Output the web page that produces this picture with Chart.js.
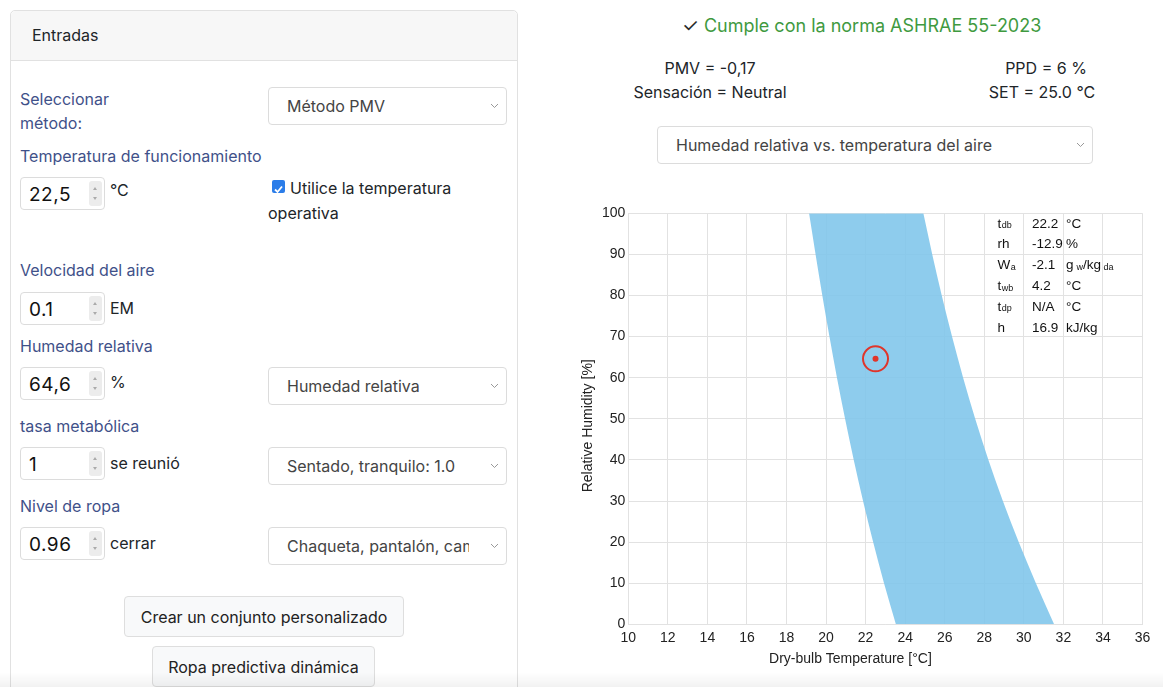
<!DOCTYPE html>
<html>
<head>
<meta charset="utf-8">
<script src="https://cdn.jsdelivr.net/npm/chart.js@4.4.1/dist/chart.umd.min.js"></script>
<style>
  html, body { margin:0; padding:0; background:#fff; }
  body { width:1163px; height:687px; position:relative; overflow:hidden; font-family: Inter, "Noto Sans", sans-serif; font-size:16px; color:#212529; }
  .a { position:absolute; white-space:nowrap; line-height:24px; }
  .lbl { color:#3f5189; }
  .card { position:absolute; left:10px; top:10px; width:506px; height:720px; border:1px solid #e1e1e1; border-radius:5px; }
  .card-h { position:absolute; left:0; top:0; right:0; height:49px; background:#f7f7f7; border-bottom:1px solid #e1e1e1; border-radius:5px 5px 0 0; }
  .inp { position:absolute; left:20px; width:83px; height:31px; border:1px solid #dcdcdc; border-radius:4px; background:#fff; }
  .inp .v { position:absolute; left:8px; top:0; line-height:33px; font-size:19px; letter-spacing:0.5px; color:#111; }
  .spin { position:absolute; left:68px; top:3px; width:13px; height:25px; background:#ececec; border-radius:3px; }
  .spin:before { content:""; position:absolute; left:4px; top:6px; border-left:2.5px solid transparent; border-right:2.5px solid transparent; border-bottom:3px solid #aaa; }
  .spin:after { content:""; position:absolute; left:4px; top:16px; border-left:2.5px solid transparent; border-right:2.5px solid transparent; border-top:3px solid #aaa; }
  .sel { position:absolute; height:36px; border:1px solid #dcdcdc; border-radius:4px; background:#fff; overflow:hidden; }
  .sel .t { position:absolute; left:18px; top:0; line-height:37px; color:#444; white-space:nowrap; }
  .sel svg { position:absolute; right:7px; top:15px; }
  .btn { position:absolute; height:39px; border:1px solid #dedede; border-radius:4px; background:#f8f9fa; text-align:center; line-height:40px; color:#222; white-space:nowrap; }
  #chartBox { position:absolute; left:572px; top:195px; width:585px; height:480px; }
  .shade { position:absolute; left:0; top:672px; width:1163px; height:15px; background:linear-gradient(rgba(0,0,0,0), rgba(0,0,0,0.05)); }
</style>
</head>
<body>
<div class="card"><div class="card-h"></div></div>
<div class="a" style="left:32px;top:23px;">Entradas</div>

<div class="a lbl" style="left:20px;top:87px;">Seleccionar</div>
<div class="a lbl" style="left:20px;top:111px;">método:</div>
<div class="sel" style="left:268px;top:87px;width:237px;"><div class="t">Método PMV</div><svg width="9" height="6"><polyline points="1,1 4.5,4.5 8,1" fill="none" stroke="#999" stroke-width="1"/></svg></div>

<div class="a lbl" style="left:20px;top:144px;">Temperatura de funcionamiento</div>
<div class="inp" style="top:177px;"><div class="v">22,5</div><div class="spin"></div></div>
<div class="a" style="left:110px;top:178px;">°C</div>
<div style="position:absolute;left:272px;top:180px;width:13px;height:13px;background:#2b7de9;border-radius:2px;"><svg width="13" height="13"><polyline points="3,6.5 5.5,9 10,3.5" fill="none" stroke="#fff" stroke-width="1.8"/></svg></div>
<div class="a" style="left:290px;top:176px;">Utilice la temperatura</div>
<div class="a" style="left:268px;top:201px;">operativa</div>

<div class="a lbl" style="left:20px;top:258px;">Velocidad del aire</div>
<div class="inp" style="top:292px;"><div class="v">0.1</div><div class="spin"></div></div>
<div class="a" style="left:110px;top:296px;">EM</div>

<div class="a lbl" style="left:20px;top:334px;">Humedad relativa</div>
<div class="inp" style="top:367px;"><div class="v">64,6</div><div class="spin"></div></div>
<div class="a" style="left:110px;top:370px;">%</div>
<div class="sel" style="left:268px;top:367px;width:237px;"><div class="t">Humedad relativa</div><svg width="9" height="6"><polyline points="1,1 4.5,4.5 8,1" fill="none" stroke="#999" stroke-width="1"/></svg></div>

<div class="a lbl" style="left:20px;top:414px;">tasa metabólica</div>
<div class="inp" style="top:447px;"><div class="v">1</div><div class="spin"></div></div>
<div class="a" style="left:110px;top:451px;">se reunió</div>
<div class="sel" style="left:268px;top:447px;width:237px;"><div class="t">Sentado, tranquilo: 1.0</div><svg width="9" height="6"><polyline points="1,1 4.5,4.5 8,1" fill="none" stroke="#999" stroke-width="1"/></svg></div>

<div class="a lbl" style="left:20px;top:494px;">Nivel de ropa</div>
<div class="inp" style="top:527px;"><div class="v">0.96</div><div class="spin"></div></div>
<div class="a" style="left:110px;top:531px;">cerrar</div>
<div class="sel" style="left:268px;top:527px;width:237px;"><div class="t" style="width:182px;overflow:hidden;">Chaqueta, pantalón, camisa</div><svg width="9" height="6"><polyline points="1,1 4.5,4.5 8,1" fill="none" stroke="#999" stroke-width="1"/></svg></div>

<div class="btn" style="left:124px;top:596px;width:278px;">Crear un conjunto personalizado</div>
<div class="btn" style="left:152px;top:646px;width:221px;">Ropa predictiva dinámica</div>

<div class="a" style="left:682px;top:14px;font-size:18px;"><span style="color:#2a2a2a;font-size:19px;">✓</span> <span style="color:#3f9a3f;">Cumple con la norma ASHRAE 55-2023</span></div>
<div class="a" style="left:560px;width:300px;text-align:center;top:56px;">PMV = -0,17</div>
<div class="a" style="left:560px;width:300px;text-align:center;top:80px;">Sensación = Neutral</div>
<div class="a" style="left:896px;width:300px;text-align:center;top:56px;">PPD = 6 %</div>
<div class="a" style="left:892px;width:300px;text-align:center;top:80px;">SET = 25.0 °C</div>
<div class="sel" style="left:657px;top:126px;width:434px;"><div class="t">Humedad relativa vs. temperatura del aire</div><svg width="9" height="6"><polyline points="1,1 4.5,4.5 8,1" fill="none" stroke="#999" stroke-width="1"/></svg></div>

<div id="chartBox"><canvas id="c"></canvas></div>
<div class="shade"></div>

<script>
// ---- data ----
const rhLevels       = [0, 10, 20, 30, 40, 50, 60, 70, 80, 90, 100];
const zoneLeftTemp   = [23.53, 22.93, 22.38, 21.87, 21.40, 20.96, 20.55, 20.17, 19.81, 19.47, 19.14];
const zoneRightTemp  = [31.53, 30.61, 29.74, 28.94, 28.21, 27.54, 26.93, 26.37, 25.85, 25.37, 24.92];
const pointTemp = [22.5];
const pointRH   = [64.6];
const xTickMin = 10, xTickMax = 36, xTickStep = 2;
const yTickMin = 0, yTickMax = 100, yTickStep = 10;
const tableLabels = [["t","db"],["rh",""],["W","a"],["t","wb"],["t","dp"],["h",""]];
const tableValues = ["22.2","-12.9","-2.1","4.2","N/A","16.9"];
const tableUnits  = [["°C"],["%"],["g","w","/kg"," da"],["°C"],["°C"],["kJ/kg"]];

const leftEdge  = rhLevels.map((rh, i) => ({x: zoneLeftTemp[i],  y: rh}));
const rightEdge = rhLevels.map((rh, i) => ({x: zoneRightTemp[i], y: rh}));
const marker    = pointTemp.map((t, i) => ({x: t, y: pointRH[i]}));

const FONT = '"Liberation Sans", Arial, sans-serif';

const tablePlugin = {
  id: 'psyTable',
  afterDraw(chart) {
    const {ctx, chartArea} = chart;
    const c1 = chartArea.right - 145, c2 = chartArea.right - 110.5, c3 = chartArea.right - 76.5;
    ctx.save();
    ctx.fillStyle = '#111';
    ctx.textBaseline = 'middle';
    const big = '13.5px ' + FONT, small = '9px ' + FONT;
    tableLabels.forEach((lab, i) => {
      const y = chartArea.top + 10.5 + i * 20.8;
      ctx.font = big; ctx.textAlign = 'left';
      ctx.fillText(lab[0], c1, y);
      let w = ctx.measureText(lab[0]).width;
      if (lab[1]) { ctx.font = small; ctx.fillText(lab[1], c1 + w + 0.5, y + 2); }
      ctx.font = big; ctx.fillText(tableValues[i], c2, y);
      let x = c3;
      tableUnits[i].forEach((part, k) => {
        const isSmall = (tableUnits[i].length > 1 && (k === 1 || k === 3));
        ctx.font = isSmall ? small : big;
        ctx.fillText(part, x, isSmall ? y + 2 : y);
        x += ctx.measureText(part).width + (k === 0 && tableUnits[i].length > 1 ? 3 : 0);
      });
    });
    ctx.restore();
  }
};

new Chart(document.getElementById('c'), {
  type: 'line',
  data: {
    datasets: [
      { data: marker, order: 0, showLine: false, pointRadius: 3, pointBorderWidth: 0, pointBackgroundColor: '#e0352b', pointHoverRadius: 3 },
      { data: marker, order: 1, showLine: false, pointRadius: 12.5, pointBorderWidth: 2, pointBorderColor: '#e0352b', pointBackgroundColor: 'rgba(0,0,0,0)', pointHoverRadius: 12.5 },
      { data: leftEdge, order: 2, borderWidth: 0, borderColor: 'rgba(0,0,0,0)', pointRadius: 0, fill: '+1', backgroundColor: 'rgba(130,198,235,0.9)', cubicInterpolationMode: 'monotone' },
      { data: rightEdge, order: 3, borderWidth: 0, borderColor: 'rgba(0,0,0,0)', pointRadius: 0, fill: false, cubicInterpolationMode: 'monotone' }
    ]
  },
  options: {
    indexAxis: 'y',
    responsive: true,
    maintainAspectRatio: false,
    animation: false,
    events: [],
    layout: { padding: { left: 5, right: 13.7, top: 18.3, bottom: 3.7 } },
    plugins: { legend: { display: false }, tooltip: { enabled: false } },
    scales: {
      x: {
        type: 'linear', min: xTickMin, max: xTickMax,
        ticks: { stepSize: xTickStep, padding: 5, color: '#222', font: { family: FONT, size: 14 }, maxRotation: 0, autoSkip: false },
        grid: { color: '#e2e2e2', drawTicks: false },
        border: { color: '#e2e2e2' },
        title: { display: true, text: 'Dry-bulb Temperature [°C]\u2003\u2003\u2003\u2003\u2003', color: '#222', font: { family: FONT, size: 14 }, padding: { top: 7, bottom: 4 } },
        afterFit(s) { s.height = 47; }
      },
      y: {
        type: 'linear', min: yTickMin, max: yTickMax,
        ticks: { stepSize: yTickStep, padding: 3, color: '#222', font: { family: FONT, size: 14 } },
        grid: { color: '#e2e2e2', drawTicks: false },
        border: { color: '#e2e2e2' },
        title: { display: true, text: 'Relative Humidity [%]\u2003', color: '#222', font: { family: FONT, size: 14 }, padding: { top: 3, bottom: 4 } },
        afterFit(s) { s.width = 51.3; }
      }
    }
  },
  plugins: [tablePlugin]
});
</script>
</body>
</html>
